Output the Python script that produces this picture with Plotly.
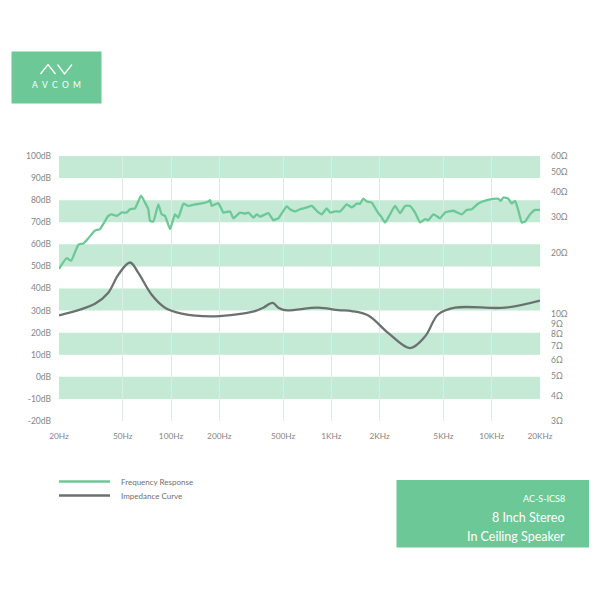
import plotly.graph_objects as go

# ---------------- data ----------------
fr_freq = [20, 22.3, 23.8, 26.4, 28.4, 30.5, 33.5, 36.0, 40.6, 42.6, 45.8, 49.2, 52.9, 55.5, 59.6,
           65.0, 68.8, 72.1, 73.9, 77.5, 83.3, 87.4, 91.7, 98.5, 105.8, 111, 119.3, 128.1, 141,
           155.3, 170.8, 175, 179.3, 197.2, 211.8, 233.3, 244.6, 269.2, 289.4, 303.4, 326, 342.4,
           358.8, 404.4, 434.6, 466.8, 526.8, 552, 593, 637.6, 702, 754, 810, 871, 935, 981, 1054,
           1132, 1247, 1340, 1439, 1509, 1582, 1662, 1785, 1918, 2062, 2162, 2322, 2496, 2682,
           2880, 3094, 3326, 3572, 3838, 4026, 4326, 4764, 5118, 5766, 6504, 6988, 7508, 8256,
           9314, 10242, 11006, 11392, 11824, 12704, 13340, 13988, 14668, 15402, 16150, 17354,
           18640, 19544, 20000]
fr_db = [48.9, 53.7, 52.6, 59.8, 60.4, 62.8, 66.2, 66.9, 72.9, 73.6, 72.9, 74.4, 74.4, 75.9, 76.3,
         82.0, 78.9, 75.9, 70.7, 70.3, 78.1, 73.6, 72.9, 66.9, 73.6, 72.1, 78.4, 77.4, 78.1,
         78.5, 79.4, 80.0, 77.4, 78.7, 74.4, 74.9, 71.8, 74.4, 73.9, 74.4, 72.1, 73.6,
         72.5, 74.1, 71.0, 71.8, 77.2, 75.9, 74.9, 75.9, 76.7, 77.4, 75.2, 73.6, 76.3, 74.4, 74.9,
         74.9, 78.1, 76.7, 78.4, 78.4, 80.7, 79.4, 78.9, 75.2, 72.1, 69.9, 73.6, 77.4, 74.1,
         77.4, 77.4, 74.4, 69.9, 71.4, 71.0, 73.6, 71.8, 74.4, 75.2, 73.6, 75.6, 75.9, 78.5,
         80.0, 80.6, 80.6, 79.7, 81.2, 80.6, 78.5, 79.7, 75.2, 69.9, 70.3, 73.6,
         75.6, 75.6, 75.6]

imp_freq = [20, 33.5, 40.6, 46.9, 55.5, 62.5, 75.7, 91.7, 116.6, 188, 334, 376, 430, 467, 514,
            826, 1106, 1340, 1700, 2267, 3094, 3838, 4628, 5908, 12116, 20000]
imp_ohm = [9.9, 11.3, 12.8, 15.7, 18.0, 16.0, 12.5, 10.8, 10.1, 9.8, 10.4, 10.8, 11.4, 10.8, 10.5,
           10.8, 10.5, 10.4, 9.9, 8.1, 6.84, 7.8, 10.0, 10.8, 10.8, 11.7]

x_tickvals = [20, 50, 100, 200, 500, 1000, 2000, 5000, 10000, 20000]
x_ticktext = ["20Hz", "50Hz", "100Hz", "200Hz", "500Hz", "1KHz", "2KHz", "5KHz", "10KHz", "20KHz"]
db_ticks = list(range(-20, 101, 10))
db_ticktext = [f"{v}dB" for v in db_ticks]
ohm_ticks = [3, 4, 5, 6, 7, 8, 9, 10, 20, 30, 40, 50, 60]
ohm_ticktext = [f"{v}Ω" for v in ohm_ticks]
band_ranges = [(90, 100), (70, 80), (50, 60), (30, 40), (10, 20), (-10, 0)]

# ---------------- styling ----------------
GREEN = "#6cc896"
BAND = "#c4e9d5"
GRAY = "#6b7171"
TXT = "#858585"
FONT = "Lato"

W = H = 600
L, R, T, B = 59, 540, 156, 421


def px(x):
    return (x - L) / (R - L)


def py(y):
    return (B - y) / (B - T)


fig = go.Figure()
fig.add_trace(go.Scatter(x=fr_freq, y=fr_db, mode="lines", name="Frequency Response",
                         line=dict(color=GREEN, width=2.3, shape="spline", smoothing=0.4),
                         showlegend=False))
fig.add_trace(go.Scatter(x=imp_freq, y=imp_ohm, mode="lines", name="Impedance Curve",
                         yaxis="y2", line=dict(color=GRAY, width=2.3, shape="spline", smoothing=1.0),
                         showlegend=False))

shapes = []
for lo, hi in band_ranges:
    shapes.append(dict(type="rect", xref="paper", yref="y", x0=0, x1=1, y0=lo, y1=hi,
                       fillcolor=BAND, line=dict(width=0), layer="below"))

# logo box
shapes.append(dict(type="rect", xref="paper", yref="paper", x0=px(11.5), x1=px(101.5),
                   y0=py(103.5), y1=py(51.5), fillcolor=GREEN, line=dict(width=0)))
logo_pts = [(40.5, 74), (48, 64.5), (55.5, 74)]
logo_pts2 = [(57.5, 64.5), (64.5, 74), (72, 64.5)]
for pts in (logo_pts, logo_pts2):
    path = "M " + " L ".join(f"{px(a):.5f},{py(b):.5f}" for a, b in pts)
    shapes.append(dict(type="path", xref="paper", yref="paper", path=path,
                       line=dict(color="white", width=1.3)))

# product box
shapes.append(dict(type="rect", xref="paper", yref="paper", x0=px(396.5), x1=px(589),
                   y0=py(547.5), y1=py(480), fillcolor=GREEN, line=dict(width=0)))

# legend lines
shapes.append(dict(type="line", xref="paper", yref="paper", x0=px(59), x1=px(110),
                   y0=py(481.5), y1=py(481.5), line=dict(color=GREEN, width=2.5)))
shapes.append(dict(type="line", xref="paper", yref="paper", x0=px(59), x1=px(110),
                   y0=py(495.5), y1=py(495.5), line=dict(color=GRAY, width=2.5)))

annotations = [
    dict(text="A\u2002V\u2002C\u2002O\u2002M", x=px(56), y=py(85.5), xref="paper", yref="paper",
         showarrow=False, xanchor="center", yanchor="middle",
         font=dict(family=FONT, size=8.5, color="white")),
    dict(text="Frequency Response", x=px(118.5), y=py(481.5), xref="paper", yref="paper",
         showarrow=False, xanchor="left", yanchor="middle",
         font=dict(family=FONT, size=8, color="#707070")),
    dict(text="Impedance Curve", x=px(118.5), y=py(495.5), xref="paper", yref="paper",
         showarrow=False, xanchor="left", yanchor="middle",
         font=dict(family=FONT, size=8, color="#707070")),
    dict(text="AC-S-ICS8", x=px(567), y=py(498.5), xref="paper", yref="paper",
         showarrow=False, xanchor="right", yanchor="middle",
         font=dict(family=FONT, size=9, color="white")),
    dict(text="8 Inch Stereo", x=px(567), y=py(517), xref="paper", yref="paper",
         showarrow=False, xanchor="right", yanchor="middle",
         font=dict(family=FONT, size=12.5, color="white")),
    dict(text="In Ceiling Speaker", x=px(567), y=py(536.5), xref="paper", yref="paper",
         showarrow=False, xanchor="right", yanchor="middle",
         font=dict(family=FONT, size=12.5, color="white")),
]

fig.update_layout(
    width=W, height=H,
    margin=dict(l=L, r=W - R, t=T, b=H - B, pad=0),
    paper_bgcolor="white", plot_bgcolor="white",
    font=dict(family=FONT, size=8, color=TXT),
    showlegend=False,
    shapes=shapes, annotations=annotations,
    xaxis=dict(type="log", range=[1.30103, 4.30103], tickvals=x_tickvals, ticktext=x_ticktext,
               showgrid=True, gridcolor="#dfeae7", gridwidth=1, zeroline=False, showline=False,
               ticks="", ticklabelstandoff=9, tickfont=dict(size=8.3, color=TXT)),
    yaxis=dict(range=[-20, 100], tickvals=db_ticks, ticktext=db_ticktext, showgrid=False,
               zeroline=False, showline=False, ticks="", ticklabelstandoff=7,
               tickfont=dict(size=8.5, color=TXT)),
    yaxis2=dict(type="log", range=[0.4771, 1.7782], overlaying="y", side="right",
                tickvals=ohm_ticks, ticktext=ohm_ticktext, showgrid=False, zeroline=False,
                showline=False, ticks="", ticklabelstandoff=10, tickfont=dict(size=8.5, color=TXT)),
)

fig.write_html("out.html")
